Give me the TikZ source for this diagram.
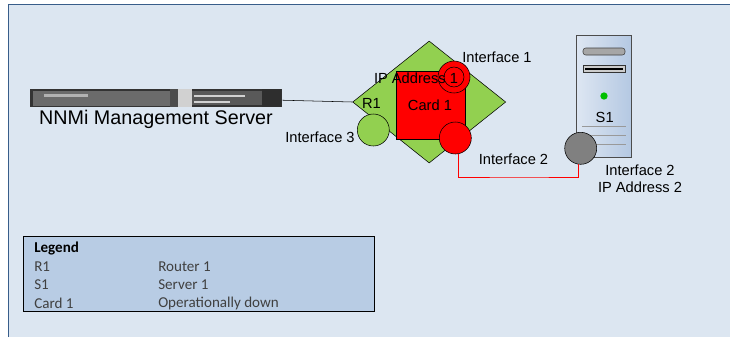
\documentclass[tikz,border=0pt]{standalone}
\usepackage{fontspec}
\setmainfont{Liberation Sans}
\newfontfamily\legendfont{Carlito}
\usepackage{tikz}
\usepackage{xcolor}
\usetikzlibrary{positioning,shapes.geometric}
\definecolor{pagebg}{HTML}{DCE6F1}
\definecolor{framecol}{HTML}{385D8A}
\definecolor{legendbg}{HTML}{B8CCE4}
\definecolor{routergreen}{HTML}{92D050}
\definecolor{legendtext}{HTML}{404040}
\definecolor{towerleft}{HTML}{DDE6F2}
\definecolor{towerright}{HTML}{B4C8E2}
\tikzset{
  port/.style={circle,draw=black,minimum size=24pt},
  lbl/.style={font=\fontsize{11}{13}\selectfont},
  legendrow/.style={anchor=west,text=legendtext,font=\legendfont\fontsize{11.3}{13}\selectfont}
}

\begin{document}
\begin{tikzpicture}[x=0.75pt,y=0.75pt]
\tikzstyle{every node}+=[inner sep=0pt]
\useasboundingbox (0,0) rectangle (730,-337);
% page frame
\fill [pagebg] (8.5,-4.5) rectangle (730,-337);
\draw [framecol,line width=1pt] (8.5,-337) -- (8.5,-4.5) -- (730,-4.5);
% management server
\node [draw=none,fill=black!80,minimum width=189pt,minimum height=13.5pt] (mgmt) at (156,-98) {};
\fill [black!58] (33,-91) rectangle (170,-106);
\fill [black!30] (44,-94) rectangle (88,-97);
\fill [black!70] (170,-89) rectangle (178,-107);
\fill [black!18] (178,-89) rectangle (192,-107);
\fill [black!65] (192,-91) rectangle (262,-105);
\fill [black!18] (194,-95) rectangle (245,-97);
\fill [black!18] (194,-101) rectangle (230,-103);
\fill [black!82] (262,-89) rectangle (281,-107);
\node [font=\fontsize{14.8}{17}\selectfont] (mgmtlabel) at (156,-119) {NNMi Management Server};
% router and card
\node [diamond,draw=black,fill=routergreen,minimum width=114.8pt,minimum height=91.5pt,aspect=1.254] (router) at (429.2,-102) {};
\node [rectangle,draw=black,fill=red,minimum width=52.3pt,minimum height=51pt] (card) at (430.8,-105) {};
\node [port,fill=routergreen] (ifthree) at (373.3,-130) {};
\node [port,fill=red] (ifone) at (454,-77) {};
\node [circle,draw=black,minimum size=15pt] (ifoneinner) at (454,-77) {};
\node [port,fill=red] (iftwo) at (455.3,-138) {};
% server tower
\node [rectangle,draw=black!70,left color=towerleft,right color=towerright,minimum width=41.2pt,minimum height=91.5pt] (server) at (604.2,-96) {};
\draw [black!75,fill=black!35,rounded corners=2pt] (583,-48) rectangle (625,-55);
\draw [black!80,fill=black!20,line width=0.6pt] (583,-65) rectangle (625,-72);
\fill [black] (585,-67.5) rectangle (623,-70);
\node [circle,fill=green!75!black,minimum size=5.5pt] (led) at (604,-96) {};
\draw [black!40] (582,-126) -- (626,-126);
\draw [black!40] (582,-135) -- (626,-135);
\draw [black!40] (582,-144) -- (626,-144);
\node [port,fill=black!50] (ifgray) at (580.7,-148.3) {};
% connectors
\coordinate (bend) at (520,-177);
\draw [black] (mgmt.-1.4) -- (router.west);
\draw [red] (iftwo.-80) |- (bend) -| (ifgray.-100);
% labels
\node [lbl] (iponelabel) at (416,-78) {IP Address 1};
\node [lbl] (cardlabel) at (430,-105) {Card 1};
\node [lbl] (routerlabel) at (371.5,-103) {R1};
\node [lbl] (ifonelabel) at (497,-57) {Interface 1};
\node [lbl] (iftwolabel) at (513.5,-159) {Interface 2};
\node [lbl] (ifthreelabel) at (320,-137) {Interface 3};
\node [lbl] (serverlabel) at (604.7,-117) {S1};
\node [lbl] (srviflabel) at (640,-170) {Interface 2};
\node [lbl] (srviplabel) at (640,-187) {IP Address 2};
% legend
\node [rectangle,draw=black,fill=legendbg,minimum width=263.5pt,minimum height=56pt] (legend) at (199,-273.5) {};
\node [legendrow,text=black,font=\legendfont\bfseries\fontsize{11.3}{13}\selectfont] (legendtitle) at (34,-248) {Legend};
\node [legendrow] (rowa) at (34,-267) {R1};
\node [legendrow] (rowb) at (34,-285) {S1};
\node [legendrow] (rowc) at (34,-303) {Card 1};
\node [legendrow] (rowd) at (158,-267) {Router 1};
\node [legendrow] (rowe) at (158,-285) {Server 1};
\node [legendrow] (rowf) at (158,-303) {Operationally down};
\end{tikzpicture}
\end{document}
